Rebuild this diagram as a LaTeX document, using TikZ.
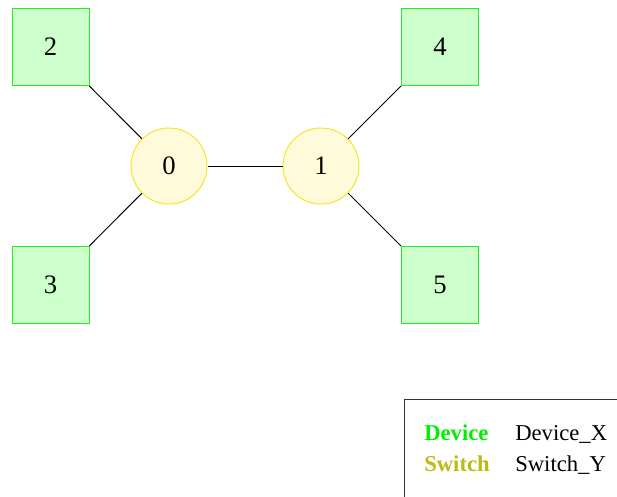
\documentclass[tikz,border=0pt]{standalone}
\usepackage{fontspec}
\setmainfont{Liberation Serif}
\usepackage{xcolor}
\usepackage{tikz}
\definecolor{devline}{HTML}{22EE22}
\definecolor{devfill}{HTML}{CCFFCC}
\definecolor{swline}{HTML}{F5E62A}
\definecolor{swfill}{HTML}{FFFBDA}
\definecolor{devtext}{HTML}{00EE00}
\definecolor{swtext}{HTML}{BBBB11}
\tikzset{
  devicebox/.style={draw=devline, fill=devfill, rectangle, minimum size=57.75pt, inner sep=0pt, line width=0.75pt, font=\fontsize{20}{24}\selectfont},
  switchnode/.style={draw=swline, fill=swfill, circle, minimum size=57pt, inner sep=0pt, line width=0.75pt, font=\fontsize{20}{24}\selectfont},
  link/.style={draw=black, line width=0.75pt},
  legendbox/.style={draw=black!80, rectangle, anchor=north west, minimum width=200pt, minimum height=90pt, line width=0.75pt},
  legendtext/.style={anchor=base west, inner sep=0pt, font=\fontsize{17}{20}\selectfont}
}

\begin{document}
\begin{tikzpicture}[x=0.75pt,y=-0.75pt]
\clip (0,0) rectangle (617,496);
\useasboundingbox (0,0) rectangle (617,496);
% switches
\node[switchnode] (s0) at (169,166) {0};
\node[switchnode] (s1) at (321,166) {1};
% devices
\node[devicebox] (d2) at (50.5,47) {2};
\node[devicebox] (d3) at (50.5,285) {3};
\node[devicebox] (d4) at (440,47) {4};
\node[devicebox] (d5) at (440,285) {5};
% links
\foreach \a/\b in {s0/s1,d2/s0,d3/s0,d4/s1,d5/s1} {
  \path[link] (\a) -- (\b);
}
% legend
\node[legendbox] (legend) at (404,399) {};
\node[legendtext, text=devtext] (devkey) at (424,440) {\bfseries Device};
\node[legendtext] (devname) at (515,440) {Device\_X};
\node[legendtext, text=swtext] (swkey) at (424,471) {\bfseries Switch};
\node[legendtext] (swname) at (515,471) {Switch\_Y};
\end{tikzpicture}
\end{document}
